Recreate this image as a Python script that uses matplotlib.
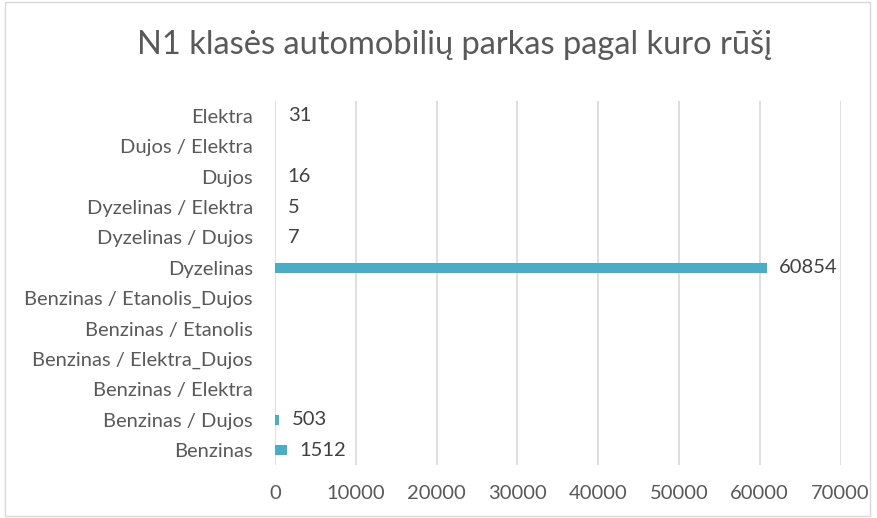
import numpy as np
import matplotlib.pyplot as plt
from matplotlib.patches import Rectangle

# fuel categories, bottom to top as drawn
categories = ['Benzinas', 'Benzinas / Dujos', 'Benzinas / Elektra',
              'Benzinas / Elektra_Dujos', 'Benzinas / Etanolis',
              'Benzinas / Etanolis_Dujos', 'Dyzelinas', 'Dyzelinas / Dujos',
              'Dyzelinas / Elektra', 'Dujos', 'Dujos / Elektra', 'Elektra']
counts = [1512, 503, None, None, None, None, 60854, 7, 5, 16, None, 31]
xticks = [0, 10000, 20000, 30000, 40000, 50000, 60000, 70000]

plt.rcParams['font.family'] = ['Lato', 'DejaVu Sans']

fig = plt.figure(figsize=(8.78, 5.18), dpi=100)
fig.patches.append(Rectangle((0.006, 0.004), 0.985, 0.992, transform=fig.transFigure,
                             fill=False, edgecolor='#d9d9d9', linewidth=1.0))
ax = fig.add_axes([0.3132, 0.1019, 0.6441, 0.7035])

y = np.arange(len(categories))
vals = np.array([np.nan if v is None else v for v in counts], dtype=float)
ax.barh(y, np.nan_to_num(vals), height=0.33, color='#4bacc6', zorder=3)

for yi, v in zip(y, counts):
    if v is None:
        continue
    ax.annotate(str(v), (v, yi), xytext=(9, 0), textcoords='offset points',
                va='center', ha='left', fontsize=14.5, color='#404040')

ax.set_ylim(-0.5, len(categories) - 0.5)
ax.set_xlim(0, 70000)
ax.set_xticks(xticks)
ax.set_yticks(y)
ax.set_yticklabels(categories)
ax.tick_params(axis='both', length=0, labelsize=14.5, labelcolor='#595959')
ax.tick_params(axis='x', pad=14)
ax.tick_params(axis='y', pad=16)
ax.grid(axis='x', color='#d9d9d9', linewidth=1.2, zorder=0)
for s in ax.spines.values():
    s.set_visible(False)

fig.text(0.518, 0.913, 'N1 klasės automobilių parkas pagal kuro rūšį',
         ha='center', va='center', fontsize=23.5, color='#595959')

fig.savefig('out.png', dpi=100)
